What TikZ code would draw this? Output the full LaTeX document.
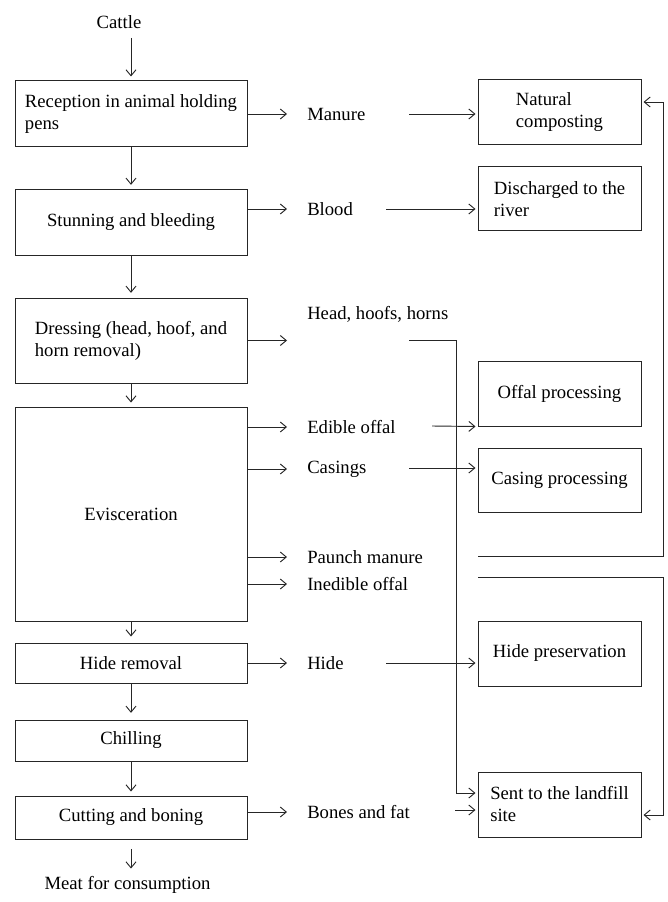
\documentclass[tikz,border=0pt]{standalone}
\usepackage{fontspec}
\setmainfont{Liberation Serif}
\usetikzlibrary{arrows.meta}

\begin{document}
\begin{tikzpicture}[x=0.75pt,y=0.75pt,yscale=-1,xscale=1,
  procbox/.style={draw=black!85,line width=0.75pt,minimum width=174pt,align=left,inner sep=0.75pt,font=\fontsize{14}{16.5}\selectfont},
  destbox/.style={draw=black!85,line width=0.75pt,minimum width=122.25pt,minimum height=48.75pt,align=left,inner sep=0.75pt,font=\fontsize{14}{16.5}\selectfont},
  outlbl/.style={anchor=west,inner sep=0pt,font=\fontsize{14}{16.5}\selectfont},
  endlbl/.style={inner sep=0.75pt,font=\fontsize{14}{16.5}\selectfont},
  flow/.style={draw=black!85,line width=0.7pt,-{Straight Barb[length=4.5pt,width=7.5pt]}}]
\useasboundingbox (0,0) rectangle (667,902);

% Main line
\node [endlbl] (cattle) at (119,22) {Cattle};
\node [procbox,minimum height=49.5pt] (recep) at (131,114) {Reception in animal holding\\pens};
\node [procbox,minimum height=48.75pt] (stun) at (131,222.5) {Stunning and bleeding};
\node [procbox,minimum height=63.75pt] (dress) at (131,340.5) {Dressing (head, hoof, and\\horn removal)};
\node [procbox,minimum height=160.5pt] (evisc) at (131,514) {Evisceration};
\node [procbox,minimum height=30pt] (hide) at (131,663) {Hide removal};
\node [procbox,minimum height=30.75pt] (chill) at (131,740.5) {Chilling};
\node [procbox,minimum height=32.25pt] (cut) at (131,817.5) {Cutting and boning};
\node [endlbl] (meat) at (127.5,885) {Meat for consumption};

% By-products
\node [outlbl] (manure) at (307,114) {Manure};
\node [outlbl] (blood) at (307,209) {Blood};
\node [outlbl] (head) at (307,314) {Head, hoofs, horns};
\node [outlbl] (edible) at (307,427) {Edible offal};
\node [outlbl] (casings) at (307,469) {Casings};
\node [outlbl] (paunch) at (307,557) {Paunch manure};
\node [outlbl] (inedible) at (307,584) {Inedible offal};
\node [outlbl] (hidelbl) at (307,663) {Hide};
\node [outlbl] (bones) at (307,812) {Bones and fat};

% Destinations
\node [destbox] (compost) at (559.5,112.5) {Natural\\composting};
\node [destbox,minimum height=48pt] (river) at (559.5,199) {Discharged to the\\river};
\node [destbox] (offalp) at (559.5,393.5) {Offal processing};
\node [destbox,minimum height=48pt] (casingp) at (559.5,480) {Casing processing};
\node [destbox] (hidep) at (559.5,653.5) {Hide preservation};
\node [destbox] (landfill) at (559.5,804.5) {Sent to the landfill\\site};

% Free ends and bends
\coordinate (mr) at (409,114);
\coordinate (br) at (386,209);
\coordinate (er) at (432,426);
\coordinate (cr) at (409,468);
\coordinate (hr) at (386,663);
\coordinate (fr) at (455,810);
\coordinate (hh-a) at (409,340);
\coordinate (hh-b) at (456,793);
\coordinate (pm-a) at (478,556);
\coordinate (pm-b) at (663,102);
\coordinate (io-a) at (478,577);
\coordinate (io-b) at (663,815);

% Down arrows
\draw [flow,shorten <=6pt,shorten >=3pt] (cattle.south -| recep.north) -- (recep.north);
\draw [flow,shorten >=3.5pt] (recep) -- (stun);
\draw [flow,shorten >=3.5pt] (stun) -- (dress);
\draw [flow,shorten >=3pt] (dress) -- (evisc);
\draw [flow,shorten >=4.5pt] (evisc) -- (hide);
\draw [flow,shorten >=5pt] (hide) -- (chill);
\draw [flow,shorten >=3pt] (chill) -- (cut);
\draw [flow,shorten <=7pt,shorten >=5pt] (cut.south) -- (cut.south |- meat.north);

% Side arrows
\draw [flow,shorten >=15pt] (recep.east |- manure.west) -- (manure.west);
\draw [flow,shorten >=15pt] (stun.east |- blood.west) -- (blood.west);
\draw [flow,shorten >=15pt] (dress.east) -- (dress.east -| head.west);
\draw [flow,shorten >=15pt] (evisc.east |- edible.west) -- (edible.west);
\draw [flow,shorten >=15pt] (evisc.east |- casings.west) -- (casings.west);
\draw [flow,shorten >=15pt] (evisc.east |- paunch.west) -- (paunch.west);
\draw [flow,shorten >=15pt] (evisc.east |- inedible.west) -- (inedible.west);
\draw [flow,shorten >=15pt] (hide.east |- hidelbl.west) -- (hidelbl.west);
\draw [flow,shorten >=15pt] (cut.east |- bones.west) -- (bones.west);

% To destinations
\draw [flow,shorten >=1.5pt] (mr) -- (mr -| compost.west);
\draw [flow,shorten >=1.5pt] (br) -- (br -| river.west);
\draw [flow,shorten >=1.5pt] (er) -- (offalp.south west);
\draw [flow,shorten >=1.5pt] (cr) -- (cr -| casingp.west);
\draw [flow,shorten >=1.5pt] (hr) -- (hr -| hidep.west);
\draw [flow,shorten >=1.5pt] (fr) -- (fr -| landfill.west);
\draw [flow,shorten >=1.5pt] (hh-a) -| (hh-b) -- (hh-b -| landfill.west);
\draw [flow,shorten >=1.5pt] (pm-a) -| (pm-b) -- (pm-b -| compost.east);
\draw [flow,shorten >=1.5pt] (io-a) -| (io-b) -- (io-b -| landfill.east);

\end{tikzpicture}
\end{document}
